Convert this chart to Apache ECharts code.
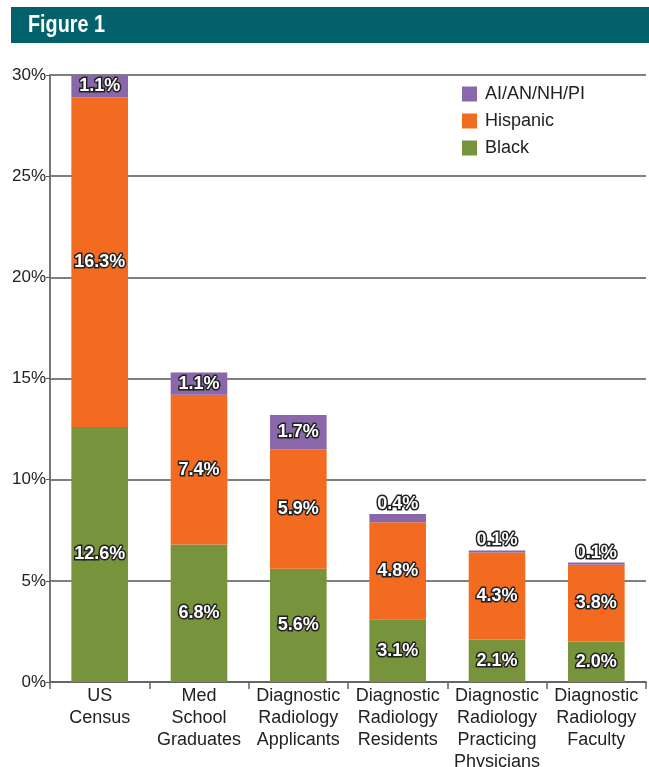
<!DOCTYPE html>
<html><head><meta charset="utf-8">
<script src="https://cdn.jsdelivr.net/npm/echarts@6/dist/echarts.min.js"></script>
<style>html,body{margin:0;padding:0;background:#fff}#c{width:649px;height:767px}</style>
</head><body><div id="c"></div>
<script>
const categories = ["US\nCensus","Med\nSchool\nGraduates","Diagnostic\nRadiology\nApplicants","Diagnostic\nRadiology\nResidents","Diagnostic\nRadiology\nPracticing\nPhysicians","Diagnostic\nRadiology\nFaculty"];
const black = [12.6, 6.8, 5.6, 3.1, 2.1, 2.0];
const hispanic = [16.3, 7.4, 5.9, 4.8, 4.3, 3.8];
const aian = [1.1, 1.1, 1.7, 0.4, 0.1, 0.1];
const yTicks = [0, 5, 10, 15, 20, 25, 30];

const font = "'Liberation Sans', Arial, Helvetica, sans-serif";
const lbl = {show:true, position:'inside', color:'#fff', fontFamily:font, fontWeight:'bold', fontSize:18, textBorderColor:'#222', textBorderWidth:3, formatter:p=>p.value.toFixed(1)+'%'};
const chart = echarts.init(document.getElementById('c'));
chart.setOption({
  animation:false,
  graphic:[
    {type:'rect', shape:{x:11,y:7,width:638,height:36}, style:{fill:'#02616b'}},
    {type:'text', x:28, y:26, scaleX:0.86, style:{text:'Figure 1', fill:'#fff', font:"bold 23px 'Liberation Sans', Arial", verticalAlign:'middle'}}
  ],
  legend:{left:457, top:80, orient:'vertical', itemWidth:15, itemHeight:15, itemGap:9, icon:'rect',
    textStyle:{fontFamily:font, fontSize:18, color:'#222', padding:[0,0,0,3]},
    data:['AI/AN/NH/PI','Hispanic','Black']},
  grid:{left:50, right:3, top:75, bottom:85, containLabel:false, outerBoundsMode:'none'},
  xAxis:{type:'category', data:categories,
    axisLine:{lineStyle:{color:'#666', width:2}},
    axisTick:{show:true, length:7, lineStyle:{color:'#666', width:1.5}},
    axisLabel:{fontFamily:font, fontSize:18, color:'#222', lineHeight:22, margin:3, interval:0}},
  yAxis:{type:'value', min:0, max:30, interval:5,
    axisLine:{show:true, lineStyle:{color:'#777', width:2}},
    axisTick:{show:true, length:4, lineStyle:{color:'#555'}},
    splitLine:{lineStyle:{color:'#555', width:1.5}},
    axisLabel:{fontFamily:font, fontSize:17, color:'#222', margin:4, formatter:v=>yTicks.includes(v)?v+'%':''}},
  series:[
    {name:'Black', type:'bar', stack:'s', barWidth:'57%', data:black, itemStyle:{color:'#77933c'}, label:lbl},
    {name:'Hispanic', type:'bar', stack:'s', data:hispanic, itemStyle:{color:'#f26b21'}, label:lbl},
    {name:'AI/AN/NH/PI', type:'bar', stack:'s', itemStyle:{color:'#8a67a8'},
      data:aian.map(v=>({value:v, label:{position: v<1 ? 'top' : 'inside', distance: 1}})), label:lbl}
  ]
});
</script></body></html>
